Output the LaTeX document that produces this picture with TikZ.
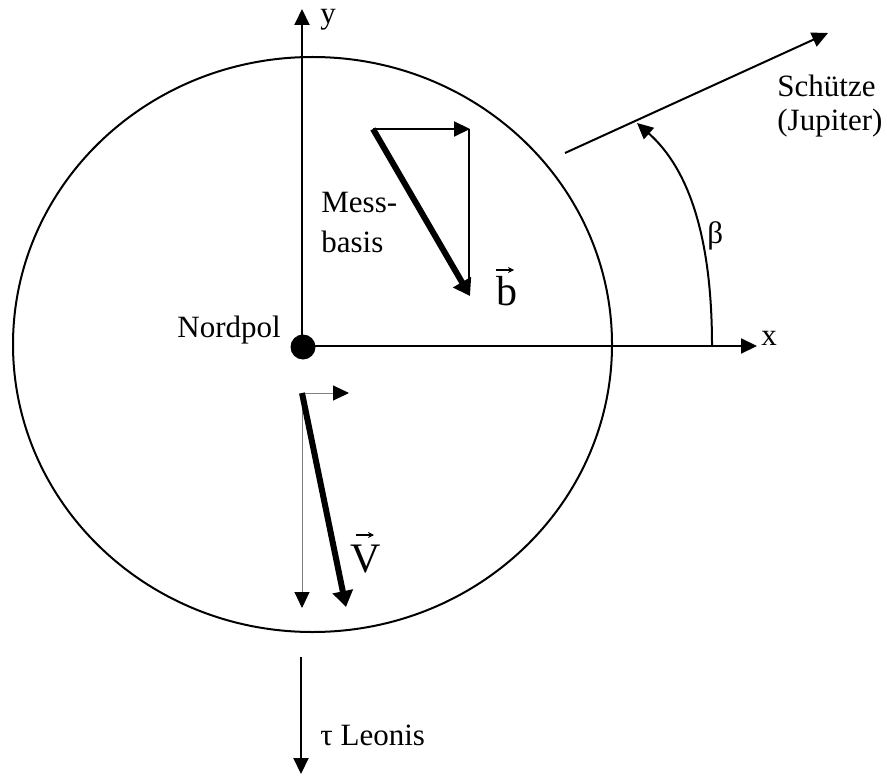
\documentclass[tikz,border=0pt]{standalone}
\usepackage{fontspec}
\setmainfont{Liberation Serif}
\usetikzlibrary{arrows.meta}
\begin{document}
\begin{tikzpicture}[x=0.5pt,y=-0.5pt,
  axisline/.style={line width=1pt},
  ar/.style={-{Triangle[length=8pt,width=7.5pt,color=black]}},
  thickvec/.style={line width=3pt,-{Triangle[length=8pt,width=10pt]}},
  greyline/.style={line width=0.5pt,draw=gray},
  accent/.style={line width=0.6pt,-{Stealth[length=3pt,width=3pt]}},
  lbl/.style={inner sep=0pt,anchor=base west,font=\fontsize{15.5pt}{18pt}\selectfont},
  biglbl/.style={lbl,font=\fontsize{21pt}{24pt}\selectfont}]
\useasboundingbox (0,0) rectangle (887,775);
% circle
\draw[axisline] (312.5,344.5) ellipse [x radius=299.5, y radius=287.5];
% axes
\coordinate (O) at (302,346);
\coordinate (ytip) at (302,9);
\coordinate (xtip) at (757,346);
\draw[axisline,ar] (O) -- (ytip);
\draw[axisline,ar] (O) -- (xtip);
\node[circle,fill,inner sep=0pt,minimum size=12.5pt] (dot) at (303,347) {};
% labels
\node[lbl] (ylab) at (320,24) {y};
\node[lbl] (xlab) at (761,345) {x};
\node[lbl] (nord) at (177,337) {Nordpol};
\node[lbl] (sch) at (777,97) {Schütze};
\node[lbl] (jup) at (777,131) {(Jupiter)};
\node[lbl] (beta) at (707,243) {β};
\node[lbl] (mess) at (321,213) {Mess-};
\node[lbl] (basis) at (321,252) {basis};
\node[lbl] (tau) at (320,745) {τ Leonis};
\node[biglbl] (blab) at (496,305) {b};
\node[biglbl] (vlab) at (350,572) {V};
\coordinate (ba0) at (496,270); \coordinate (ba1) at (514,270);
\draw[accent] (ba0) -- (ba1);
\coordinate (va0) at (356,535); \coordinate (va1) at (374,535);
\draw[accent] (va0) -- (va1);
% Schuetze direction and angle beta
\coordinate (s0) at (565,153);
\coordinate (s1) at (828,33);
\draw[axisline,ar] (s0) -- (s1);
\coordinate (a0) at (712,346);
\coordinate (a1) at (637,123);
\draw[axisline,ar] (a0) .. controls (712,240) and (690,170) .. (a1);
% Messbasis vector b
\coordinate (m0) at (373,129);
\coordinate (m1) at (470,129);
\coordinate (m2) at (469,129);
\coordinate (m3) at (469,287);
\coordinate (m4) at (470,296);
\draw[axisline,ar] (m0) -- (m1);
\draw[axisline] (m2) -- (m3);
\draw[thickvec] (m0) -- (m4);
% vector V
\coordinate (v0) at (302,393);
\coordinate (v1) at (349,393);
\coordinate (v2) at (302,608);
\coordinate (v3) at (346,607);
\draw[greyline,ar] (v0) -- (v1);
\draw[greyline,ar] (v0) -- (v2);
\draw[thickvec] (v0) -- (v3);
% tau Leonis
\coordinate (t0) at (301,657);
\coordinate (t1) at (301,774);
\draw[axisline,ar] (t0) -- (t1);
\end{tikzpicture}
\end{document}
